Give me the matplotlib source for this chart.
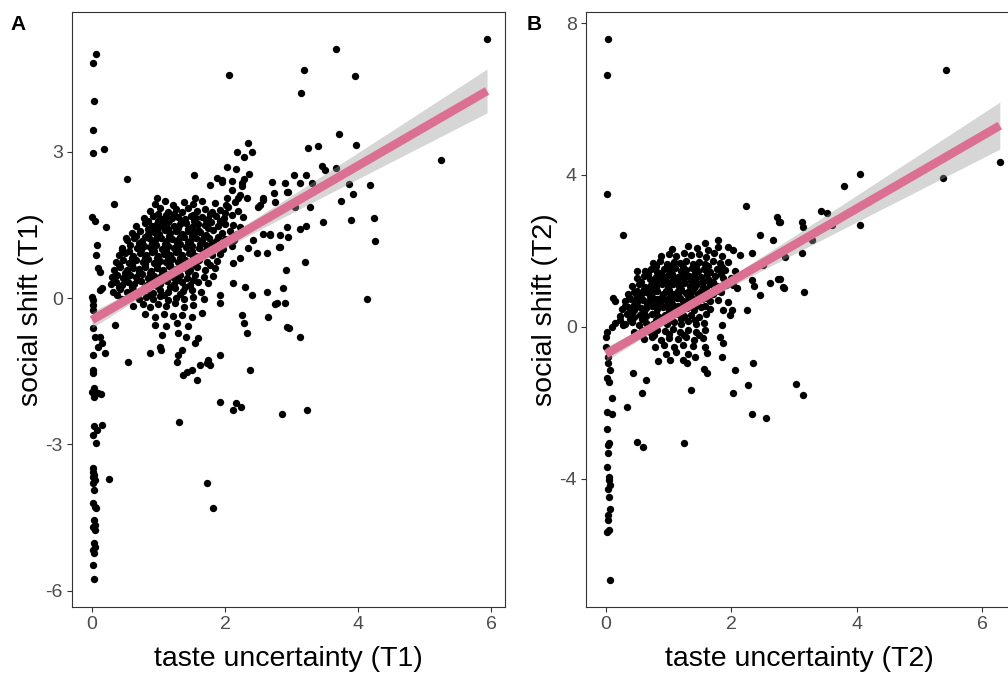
import numpy as np
import matplotlib.pyplot as plt

plt.rcParams['font.family'] = ['Liberation Sans', 'DejaVu Sans']
plt.rcParams['axes.unicode_minus'] = False

# ---- panel A: taste uncertainty (T1) vs social shift (T1) ----
a_outliers = [
    (0.06, 5.00), (0.01, 4.82), (0.03, 4.04), (0.01, 3.44), (0.01, 2.97), (0.18, 3.05), (0.53, 2.44),
    (2.06, 4.57), (1.53, 2.52), (2.35, 3.18), (2.18, 3.00), (2.41, 3.00), (2.29, 2.89), (2.03, 2.69),
    (2.17, 2.64), (2.36, 2.54), (2.10, 2.40), (2.29, 2.44), (2.26, 2.30), (1.77, 2.32), (1.88, 2.46),
    (1.95, 2.38), (2.71, 2.38), (2.90, 2.36), (2.93, 2.17), (2.74, 2.15), (0.98, 2.05), (1.55, 2.05),
    (2.03, 2.05), (2.20, 2.05), (2.33, 2.05), (2.57, 2.05),
    (5.94, 5.31), (3.67, 5.10), (3.19, 4.67), (3.95, 4.55), (3.14, 4.20), (3.71, 3.36), (3.97, 3.14),
    (3.25, 3.07), (3.40, 3.11), (5.25, 2.83), (3.46, 2.70), (3.50, 2.62), (3.67, 2.66), (3.04, 2.52),
    (3.22, 2.52), (3.13, 2.36), (3.31, 2.36), (2.95, 2.17), (3.86, 2.34), (4.18, 2.32), (3.92, 2.13),
    (3.74, 1.99), (2.57, 2.00), (2.75, 1.97), (3.28, 1.86), (3.05, 1.86), (3.47, 1.56), (3.89, 1.60),
    (4.24, 1.64), (3.13, 1.41), (3.22, 1.48), (2.57, 1.31), (2.68, 1.31), (2.95, 1.25), (4.26, 1.17),
    (2.81, 1.05), (2.63, 0.92), (3.20, 0.74), (2.92, 0.57), (2.63, 0.12), (2.87, 0.20), (2.75, -0.12),
    (2.90, -0.10), (4.14, -0.02), (2.65, -0.39), (2.96, -0.61), (3.13, -0.80), (2.86, -2.38), (3.23, -2.30),
    (0.00, -1.93), (0.14, -1.97), (0.03, -2.03), (0.03, -2.62), (0.15, -2.60), (0.08, -2.70), (0.02, -2.81),
    (0.06, -2.97), (0.26, -3.71), (0.02, -3.48), (0.01, -3.57), (0.03, -3.63), (0.02, -3.67), (0.04, -3.73),
    (0.01, -3.79), (0.03, -3.93), (0.02, -4.20), (0.04, -4.28), (0.06, -4.30), (0.03, -4.55), (0.05, -4.65),
    (0.02, -4.69), (0.04, -4.75), (0.03, -5.02), (0.04, -5.10), (0.02, -5.16), (0.03, -5.23), (0.01, -5.47),
    (0.03, -5.76), (1.31, -2.54), (1.93, -2.13), (2.12, -2.30), (2.17, -2.15), (2.24, -2.23), (1.73, -3.79),
    (1.82, -4.30),
    (0.00, 1.66), (0.05, 1.58), (0.08, 1.09), (0.06, 0.88), (0.09, 0.61), (0.12, 0.53), (0.00, 0.02),
    (0.02, -0.04), (0.01, -0.14), (0.02, -0.25), (0.12, 0.16), (0.15, 0.20), (0.02, -0.61), (0.05, -0.80),
    (0.12, -0.80), (0.15, -0.92), (0.09, -1.00), (0.02, -1.17), (0.20, -1.13), (0.02, -1.48), (0.02, -1.54),
    (0.03, -1.84), (0.09, -1.95), (0.33, 1.93), (0.21, 1.45), (0.51, 1.23), (0.45, 0.98), (0.54, -1.31),
    (0.35, -0.55), (0.87, -1.13), (1.02, -1.00), (1.04, -1.07), (1.28, -1.31), (1.29, -1.17), (1.35, -1.07),
    (1.59, -0.82), (1.55, -0.92), (1.43, -1.52), (1.37, -1.58), (1.50, -1.48), (1.58, -1.68), (1.62, -1.37),
    (1.73, -1.33), (1.74, -1.27), (1.77, -1.37), (1.92, -1.17), (2.38, -1.48), (2.26, -0.35), (2.29, -0.51),
    (2.33, -0.72), (2.12, 0.31), (2.30, 0.23), (2.41, 0.06), (2.78, -0.10), (2.93, -0.59), (1.92, 0.06),
    (1.92, -0.10), (2.48, 0.92), (2.83, 1.05), (2.68, 1.29), (2.83, 1.29), (2.93, 1.45), (2.12, 0.72),
    (2.23, 0.82), (2.35, 1.02), (2.42, 1.19), (2.53, 1.91), (2.50, 1.86), (2.26, 2.36), (2.23, 2.11),
    (2.10, 2.21), (1.95, 2.42),
]
a_cloud = [
    (0.95, 1.93), (1.10, 1.98), (1.22, 1.90), (1.38, 1.96), (1.52, 1.92), (1.66, 1.99), (1.85, 1.94), (2.02, 1.91), (2.15, 1.97),
    (0.88, 1.78), (1.02, 1.84), (1.15, 1.77), (1.27, 1.82), (1.36, 1.76), (1.45, 1.85), (1.58, 1.79), (1.70, 1.83),
    (1.80, 1.76), (1.93, 1.81), (2.05, 1.86), (2.20, 1.78),
    (0.78, 1.63), (0.92, 1.68), (1.05, 1.61), (1.12, 1.70), (1.20, 1.64), (1.30, 1.67), (1.40, 1.62), (1.49, 1.69),
    (1.57, 1.64), (1.66, 1.66), (1.75, 1.61), (1.86, 1.68), (1.98, 1.63), (2.10, 1.70), (2.27, 1.65),
    (0.66, 1.48), (0.80, 1.53), (0.90, 1.47), (0.98, 1.52), (1.07, 1.49), (1.15, 1.55), (1.23, 1.47), (1.32, 1.51),
    (1.41, 1.54), (1.50, 1.46), (1.60, 1.52), (1.70, 1.49), (1.79, 1.55), (1.90, 1.47), (2.00, 1.52), (2.12, 1.50), (2.22, 1.45),
    (0.60, 1.33), (0.72, 1.38), (0.84, 1.32), (0.93, 1.36), (1.01, 1.31), (1.10, 1.39), (1.18, 1.34), (1.27, 1.37),
    (1.35, 1.31), (1.44, 1.38), (1.53, 1.33), (1.62, 1.36), (1.72, 1.30), (1.82, 1.39), (1.95, 1.34), (2.08, 1.37), (2.18, 1.32),
    (0.52, 1.18), (0.63, 1.23), (0.75, 1.17), (0.86, 1.22), (0.95, 1.19), (1.04, 1.24), (1.12, 1.16), (1.21, 1.21),
    (1.30, 1.18), (1.38, 1.25), (1.47, 1.17), (1.56, 1.22), (1.66, 1.19), (1.76, 1.24), (1.87, 1.16), (2.00, 1.21), (2.13, 1.18),
    (0.45, 1.03), (0.57, 1.08), (0.68, 1.02), (0.79, 1.07), (0.88, 1.04), (0.97, 1.09), (1.06, 1.01), (1.15, 1.06),
    (1.24, 1.03), (1.33, 1.10), (1.42, 1.04), (1.51, 1.07), (1.61, 1.02), (1.71, 1.08), (1.84, 1.05), (1.97, 1.01), (2.10, 1.07),
    (0.40, 0.88), (0.50, 0.93), (0.61, 0.87), (0.72, 0.92), (0.82, 0.89), (0.91, 0.94), (1.00, 0.86), (1.09, 0.91),
    (1.18, 0.88), (1.27, 0.95), (1.36, 0.89), (1.46, 0.92), (1.56, 0.87), (1.67, 0.93), (1.80, 0.88), (1.93, 0.91),
    (0.36, 0.73), (0.46, 0.78), (0.56, 0.72), (0.66, 0.77), (0.76, 0.74), (0.85, 0.79), (0.94, 0.71), (1.03, 0.76),
    (1.12, 0.73), (1.21, 0.80), (1.30, 0.74), (1.40, 0.77), (1.50, 0.72), (1.61, 0.78), (1.73, 0.73), (1.88, 0.76),
    (0.33, 0.58), (0.42, 0.63), (0.52, 0.57), (0.62, 0.62), (0.71, 0.59), (0.80, 0.64), (0.89, 0.56), (0.98, 0.61),
    (1.07, 0.58), (1.16, 0.65), (1.26, 0.59), (1.36, 0.62), (1.47, 0.57), (1.58, 0.63), (1.70, 0.58), (1.85, 0.61),
    (0.30, 0.43), (0.38, 0.48), (0.47, 0.42), (0.57, 0.47), (0.66, 0.44), (0.75, 0.49), (0.84, 0.41), (0.93, 0.46),
    (1.02, 0.43), (1.12, 0.50), (1.22, 0.44), (1.32, 0.47), (1.43, 0.42), (1.55, 0.48), (1.68, 0.43), (1.82, 0.46),
    (0.28, 0.28), (0.36, 0.33), (0.45, 0.27), (0.54, 0.32), (0.63, 0.29), (0.73, 0.34), (0.83, 0.26), (0.93, 0.31),
    (1.03, 0.28), (1.13, 0.35), (1.24, 0.29), (1.35, 0.32), (1.47, 0.27), (1.60, 0.33), (1.75, 0.30),
    (0.32, 0.13), (0.42, 0.18), (0.52, 0.12), (0.62, 0.17), (0.72, 0.14), (0.82, 0.19), (0.92, 0.11), (1.03, 0.16),
    (1.14, 0.13), (1.25, 0.20), (1.37, 0.14), (1.50, 0.17), (1.64, 0.12),
    (0.45, -0.02), (0.58, 0.03), (0.70, -0.03), (0.81, 0.02), (0.92, -0.01), (1.03, 0.04), (1.14, -0.04), (1.26, 0.01),
    (1.38, -0.02), (1.52, 0.03), (1.68, -0.01),
    (0.62, -0.17), (0.76, -0.12), (0.88, -0.18), (1.00, -0.13), (1.12, -0.16), (1.25, -0.11), (1.38, -0.18), (1.52, -0.14),
    (0.80, -0.33), (0.95, -0.38), (1.08, -0.32), (1.22, -0.37), (1.35, -0.34), (1.50, -0.39), (1.65, -0.31),
    (0.95, -0.55), (1.12, -0.58), (1.28, -0.52), (1.45, -0.57), (1.05, -0.76), (1.30, -0.72), (1.42, -0.80),
    (0.85, 1.42), (1.00, 1.43), (1.15, 1.41), (1.30, 1.44), (1.45, 1.42), (1.60, 1.40), (1.75, 1.43),
    (0.70, 1.12), (0.90, 1.13), (1.10, 1.11), (1.28, 1.12), (1.45, 1.14), (1.62, 1.11), (1.80, 1.12),
    (0.60, 0.82), (0.80, 0.83), (0.98, 0.81), (1.15, 0.84), (1.33, 0.82), (1.52, 0.83),
    (0.50, 0.52), (0.70, 0.53), (0.88, 0.51), (1.05, 0.54), (1.25, 0.52), (1.45, 0.53),
    (0.40, 0.22), (0.60, 0.23), (0.78, 0.21), (0.98, 0.24), (1.18, 0.22), (1.40, 0.23),
    (1.00, 1.72), (1.24, 1.73), (1.52, 1.71), (1.78, 1.72), (2.00, 1.74),
    (0.85, 1.58), (1.00, 1.57), (1.16, 1.59), (1.34, 1.58), (1.53, 1.57), (1.71, 1.59), (1.92, 1.58),
    (0.66, 1.27), (0.80, 1.26), (0.98, 1.28), (1.16, 1.27), (1.33, 1.26), (1.50, 1.28), (1.68, 1.27), (1.90, 1.26),
    (0.55, 0.97), (0.74, 0.98), (0.93, 0.96), (1.12, 0.97), (1.30, 0.98), (1.50, 0.96), (1.70, 0.97),
    (0.41, 0.68), (0.60, 0.67), (0.80, 0.69), (0.98, 0.68), (1.17, 0.67), (1.35, 0.69), (1.55, 0.68), (1.78, 0.67),
    (0.33, 0.37), (0.50, 0.38), (0.68, 0.36), (0.88, 0.37), (1.08, 0.38), (1.29, 0.36), (1.52, 0.37),
    (0.38, 0.07), (0.65, 0.08), (0.87, 0.06), (1.08, 0.07), (1.32, 0.08),
]

# ---- panel B: taste uncertainty (T2) vs social shift (T2) ----
b_outliers = [
    (0.03, 7.58), (0.02, 6.63), (0.02, 3.50), (0.27, 2.42), (2.23, 3.18), (2.73, 2.89), (2.76, 2.76),
    (2.46, 2.42), (2.66, 2.29), (0.49, 1.47), (0.11, 0.76), (0.14, 0.68), (2.74, 1.26), (2.62, 1.16),
    (2.82, 1.05), (2.46, 0.84), (2.36, 1.08), (2.25, 0.45), (2.33, 1.24), (1.87, 0.45), (2.01, 0.45),
    (1.98, 0.32), (1.95, 0.66), (2.03, 1.10), (2.09, 1.03), (1.85, 0.05), (1.82, -0.26), (1.87, -0.42),
    (1.85, -0.79), (1.58, -0.53), (1.61, -0.68), (2.34, -0.95), (2.06, -1.13), (2.26, -1.53), (2.03, -1.74),
    (1.56, -1.11), (1.61, -1.21), (1.23, -0.87), (1.29, -0.95), (1.42, -0.79), (0.83, -0.89), (1.02, -0.87),
    (0.43, -1.21), (0.64, -1.39), (0.57, -1.74), (0.10, -1.87), (0.02, -1.34), (0.05, -1.45), (0.06, -1.13),
    (0.03, -0.95), (0.00, -0.26), (0.00, -0.53), (0.03, -0.79), (0.01, -0.13), (0.10, 0.00), (0.14, 0.10),
    (0.22, 0.18), (0.27, 0.05), (1.36, -1.66), (2.33, -2.29), (2.55, -2.39), (0.33, -2.10), (0.02, -2.24),
    (0.10, -2.29), (0.02, -2.68), (0.49, -3.03), (0.59, -3.16), (1.24, -3.05), (0.04, -3.05), (0.03, -3.11),
    (0.03, -3.32), (0.02, -3.68), (0.04, -3.95), (0.05, -4.03), (0.06, -4.16), (0.03, -4.26), (0.05, -4.47),
    (0.06, -4.79), (0.03, -4.95), (0.03, -5.08), (0.02, -5.39), (0.05, -5.34), (0.06, -6.66),
    (5.42, 6.76), (6.28, 4.34), (5.37, 3.92), (4.05, 4.03), (3.80, 3.71), (3.43, 3.05), (3.52, 3.00),
    (3.60, 2.68), (4.05, 2.68), (3.13, 2.76), (3.14, 2.63), (2.78, 2.76), (3.29, 2.29), (2.85, 1.84),
    (3.13, 1.95), (2.78, 1.26), (2.84, 1.03), (3.16, 0.92), (3.03, -1.50), (3.14, -1.79),
    (1.58, 2.21), (1.79, 2.29), (1.95, 2.11), (2.03, 2.03), (2.14, 1.89), (2.33, 1.95), (2.50, 1.63),
]
b_cloud = [
    (1.05, 2.05), (1.30, 2.12), (1.45, 2.08), (1.62, 2.02), (1.78, 2.10),
    (0.88, 1.88), (1.00, 1.93), (1.12, 1.86), (1.24, 1.95), (1.36, 1.89), (1.48, 1.92), (1.60, 1.85), (1.72, 1.94), (1.85, 1.88),
    (0.75, 1.68), (0.86, 1.73), (0.97, 1.66), (1.08, 1.72), (1.18, 1.69), (1.28, 1.74), (1.38, 1.67), (1.48, 1.71),
    (1.58, 1.66), (1.70, 1.73), (1.82, 1.68), (1.95, 1.70),
    (0.62, 1.48), (0.72, 1.53), (0.82, 1.46), (0.92, 1.52), (1.01, 1.49), (1.10, 1.54), (1.19, 1.47), (1.28, 1.51),
    (1.37, 1.55), (1.46, 1.48), (1.56, 1.52), (1.66, 1.46), (1.77, 1.53), (1.90, 1.49), (2.05, 1.47),
    (0.50, 1.28), (0.60, 1.33), (0.70, 1.26), (0.79, 1.31), (0.88, 1.29), (0.97, 1.34), (1.06, 1.27), (1.15, 1.32),
    (1.24, 1.28), (1.33, 1.35), (1.42, 1.29), (1.52, 1.31), (1.62, 1.26), (1.73, 1.33), (1.86, 1.28), (2.00, 1.30),
    (0.42, 1.08), (0.52, 1.13), (0.62, 1.06), (0.71, 1.11), (0.80, 1.09), (0.89, 1.14), (0.98, 1.07), (1.07, 1.12),
    (1.16, 1.08), (1.25, 1.15), (1.34, 1.09), (1.44, 1.11), (1.54, 1.06), (1.65, 1.13), (1.77, 1.08), (1.92, 1.11),
    (0.35, 0.88), (0.45, 0.93), (0.55, 0.86), (0.64, 0.91), (0.73, 0.89), (0.82, 0.94), (0.91, 0.87), (1.00, 0.92),
    (1.09, 0.88), (1.18, 0.95), (1.27, 0.89), (1.37, 0.91), (1.47, 0.86), (1.58, 0.93), (1.70, 0.88), (1.84, 0.91),
    (0.30, 0.68), (0.40, 0.73), (0.50, 0.66), (0.59, 0.71), (0.68, 0.69), (0.77, 0.74), (0.86, 0.67), (0.95, 0.72),
    (1.04, 0.68), (1.13, 0.75), (1.22, 0.69), (1.32, 0.71), (1.42, 0.66), (1.53, 0.73), (1.65, 0.68), (1.78, 0.71),
    (0.25, 0.48), (0.35, 0.53), (0.45, 0.46), (0.55, 0.51), (0.64, 0.49), (0.73, 0.54), (0.82, 0.47), (0.91, 0.52),
    (1.00, 0.48), (1.09, 0.55), (1.19, 0.49), (1.29, 0.51), (1.40, 0.46), (1.52, 0.53), (1.65, 0.48),
    (0.22, 0.28), (0.33, 0.33), (0.44, 0.26), (0.54, 0.31), (0.64, 0.29), (0.74, 0.34), (0.84, 0.27), (0.94, 0.32),
    (1.04, 0.28), (1.14, 0.35), (1.25, 0.29), (1.36, 0.31), (1.48, 0.26), (1.60, 0.33),
    (0.30, 0.08), (0.42, 0.13), (0.53, 0.06), (0.64, 0.11), (0.75, 0.09), (0.86, 0.14), (0.97, 0.07), (1.08, 0.12),
    (1.19, 0.08), (1.31, 0.15), (1.43, 0.09), (1.56, 0.11),
    (0.45, -0.12), (0.58, -0.07), (0.70, -0.13), (0.82, -0.08), (0.94, -0.11), (1.06, -0.06), (1.18, -0.12),
    (1.30, -0.09), (1.43, -0.13), (1.58, -0.08),
    (0.60, -0.32), (0.74, -0.27), (0.88, -0.33), (1.01, -0.28), (1.14, -0.31), (1.27, -0.26), (1.40, -0.33), (1.55, -0.29),
    (0.78, -0.52), (0.93, -0.47), (1.08, -0.53), (1.22, -0.48), (1.38, -0.51), (0.95, -0.70), (1.12, -0.66), (1.30, -0.72),
    (0.75, 1.19), (0.95, 1.21), (1.15, 1.18), (1.35, 1.20), (1.55, 1.19),
    (0.60, 0.99), (0.80, 1.01), (1.00, 0.98), (1.20, 1.00), (1.40, 1.02), (1.60, 0.99),
    (0.50, 0.79), (0.70, 0.81), (0.90, 0.78), (1.10, 0.80), (1.30, 0.82), (1.50, 0.79),
    (0.45, 0.59), (0.65, 0.61), (0.85, 0.58), (1.05, 0.60), (1.25, 0.62), (1.45, 0.59),
    (0.40, 0.39), (0.60, 0.41), (0.80, 0.38), (1.00, 0.40), (1.20, 0.42),
    (0.80, 1.60), (1.02, 1.61), (1.23, 1.59), (1.43, 1.60), (1.63, 1.61), (1.85, 1.59),
    (0.67, 1.40), (0.87, 1.41), (1.05, 1.39), (1.24, 1.40), (1.42, 1.41), (1.61, 1.39), (1.83, 1.40),
    (0.55, 1.18), (0.85, 1.17), (1.05, 1.19), (1.25, 1.18), (1.45, 1.17), (1.70, 1.19),
    (0.50, 0.95), (0.70, 0.96), (0.95, 0.94), (1.14, 0.95), (1.32, 0.96), (1.52, 0.94), (1.75, 0.95),
    (0.36, 0.75), (0.55, 0.76), (0.82, 0.74), (1.00, 0.75), (1.18, 0.76), (1.38, 0.74), (1.60, 0.75),
    (0.30, 0.55), (0.50, 0.56), (0.78, 0.54), (0.96, 0.55), (1.14, 0.56), (1.35, 0.54), (1.58, 0.55),
    (0.38, 0.20), (0.58, 0.21), (0.79, 0.19), (0.99, 0.20), (1.20, 0.21), (1.42, 0.19),
    (0.52, -0.20), (0.76, -0.21), (1.00, -0.19), (1.24, -0.20), (1.48, -0.21),
]

# fitted lines (intercept, slope) and CI half-width at the right end
fit_a = (-0.45, 0.79)
fit_b = (-0.71, 0.957)
ci_end_a = 0.45
ci_end_b = 0.62

panels = [
    dict(pts=a_outliers + a_cloud, fit=fit_a, ci_end=ci_end_a, tag='A',
         xlab='taste uncertainty (T1)', ylab='social shift (T1)',
         yticks=[-6, -3, 0, 3], xlim=(-0.30, 6.21), ylim=(-6.33, 5.86),
         pos=[72 / 1008, 66 / 673, 433 / 1008, 595 / 673]),
    dict(pts=b_outliers + b_cloud, fit=fit_b, ci_end=ci_end_b, tag='B',
         xlab='taste uncertainty (T2)', ylab='social shift (T2)',
         yticks=[-4, 0, 4, 8], xlim=(-0.32, 6.49), ylim=(-7.37, 8.29),
         pos=[586 / 1008, 66 / 673, 427 / 1008, 595 / 673]),
]

fig = plt.figure(figsize=(10.08, 6.73), dpi=100)

for p in panels:
    ax = fig.add_axes(p['pos'])
    x = np.array([q[0] for q in p['pts']])
    y = np.array([q[1] for q in p['pts']])
    ax.scatter(x, y, s=28, color='black', linewidths=0, zorder=2)

    # regression line + confidence band
    b0, b1 = p['fit']
    xs = np.linspace(x.min(), x.max(), 200)
    ys = b0 + b1 * xs
    n = len(x)
    sxx = np.sum((x - x.mean()) ** 2)
    shape = np.sqrt(1 / n + (xs - x.mean()) ** 2 / sxx)
    hw = p['ci_end'] * shape / shape[-1]
    ax.fill_between(xs, ys - hw, ys + hw, color='#999999', alpha=0.4, linewidth=0, zorder=3)
    ax.plot(xs, ys, color='#DB7093', lw=6.2, solid_capstyle='butt', zorder=4)

    ax.set_xlim(p['xlim'])
    ax.set_ylim(p['ylim'])
    ax.set_xticks([0, 2, 4, 6])
    ax.set_yticks(p['yticks'])
    ax.tick_params(direction='out', length=3.5, width=0.8, color='#333333',
                   labelcolor='#4D4D4D', labelsize=14, pad=3)
    for sp in ax.spines.values():
        sp.set_color('#333333')
        sp.set_linewidth(0.8)
    ax.set_xlabel(p['xlab'], fontsize=20.5, labelpad=9)
    ax.set_ylabel(p['ylab'], fontsize=20.5, labelpad=1)

fig.text(10 / 1008, 1 - 30 / 673, 'A', fontsize=15, fontweight='bold')
fig.text(527 / 1008, 1 - 30 / 673, 'B', fontsize=15, fontweight='bold')

fig.savefig('out.png', dpi=100)
